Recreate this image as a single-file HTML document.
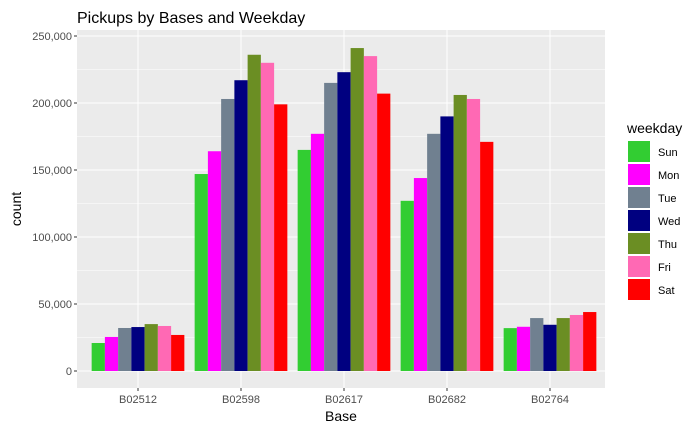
<!DOCTYPE html>
<html><head><meta charset="utf-8"><style>
body{margin:0;background:#fff;font-family:"Liberation Sans",Arial,sans-serif}
</style></head><body>
<svg id="c" width="700" height="432" xmlns="http://www.w3.org/2000/svg"></svg>
<script>
const categories=["B02512","B02598","B02617","B02682","B02764"];
const days=["Sun","Mon","Tue","Wed","Thu","Fri","Sat"];
const colors=["#32CD32","#FF00FF","#708090","#000080","#6B8E23","#FF69B4","#FF0000"];
const sun=[20900,147000,165000,127000,32000];
const mon=[25400,164000,177000,144000,33000];
const tue=[32100,203000,215000,177000,39500];
const wed=[32800,217000,223000,190000,34500];
const thu=[35000,236000,241000,206000,39500];
const fri=[33600,230000,235000,203000,41800];
const sat=[26900,199000,207000,171000,44000];
const series=[sun,mon,tue,wed,thu,fri,sat];
const yTicks=[0,50000,100000,150000,200000,250000];
const yLabels=["0","50,000","100,000","150,000","200,000","250,000"];

const NS="http://www.w3.org/2000/svg",svg=document.getElementById("c");
function el(t,a,p){const e=document.createElementNS(NS,t);for(const k in a)e.setAttribute(k,a[k]);(p||svg).appendChild(e);return e;}
const L=77,R=605,T=30,B=388;
const y=v=>371-v*(335/250000);
const step=103, x=i=>138+i*step;
const bg=el("rect",{x:L,y:T,width:R-L,height:B-T,fill:"#EBEBEB"});


for(let i=0;i<yTicks.length-1;i++){const m=y((yTicks[i]+yTicks[i+1])/2);el("line",{x1:L,x2:R,y1:m,y2:m,stroke:"#fff","stroke-width":0.5});}
yTicks.forEach((v,i)=>{const g=el("line",{x1:L,x2:R,y1:y(v),y2:y(v),stroke:"#fff","stroke-width":1});


el("line",{x1:L-3,x2:L,y1:y(v),y2:y(v),stroke:"#333"});
const t=el("text",{x:L-5,y:y(v)+4,"text-anchor":"end","font-size":11,fill:"#4D4D4D"});t.textContent=yLabels[i];

});
categories.forEach((c,i)=>{el("line",{x1:x(i),x2:x(i),y1:T,y2:B,stroke:"#fff"});
el("line",{x1:x(i),x2:x(i),y1:B,y2:B+3,stroke:"#333"});
const t=el("text",{x:x(i),y:B+15,"text-anchor":"middle","font-size":11,fill:"#4D4D4D"});t.textContent=c;

});
const gw=step*0.9,bw=gw/7;
series.forEach((s,d)=>s.forEach((v,i)=>{const r=el("rect",{x:x(i)-gw/2+d*bw,y:y(v),width:bw,height:y(0)-y(v),fill:colors[d]});

}));
const title=el("text",{x:77,y:23,"font-size":16,fill:"#000"});title.textContent="Pickups by Bases and Weekday";


const xt=el("text",{x:341,y:421,"text-anchor":"middle","font-size":14,fill:"#000"});xt.textContent="Base";


const yt=el("text",{x:21,y:209,"text-anchor":"middle","font-size":14,fill:"#000",transform:"rotate(-90 21 209)"});yt.textContent="count";


const lt=el("text",{x:627,y:133,"font-size":14,fill:"#000"});lt.textContent="weekday";


days.forEach((d,i)=>{const yy=141+i*23;
const k=el("rect",{x:628,y:yy,width:22,height:21,fill:colors[i]});


const t=el("text",{x:658,y:yy+15,"font-size":11,fill:"#000"});t.textContent=d;

});
</script>
</body></html>
